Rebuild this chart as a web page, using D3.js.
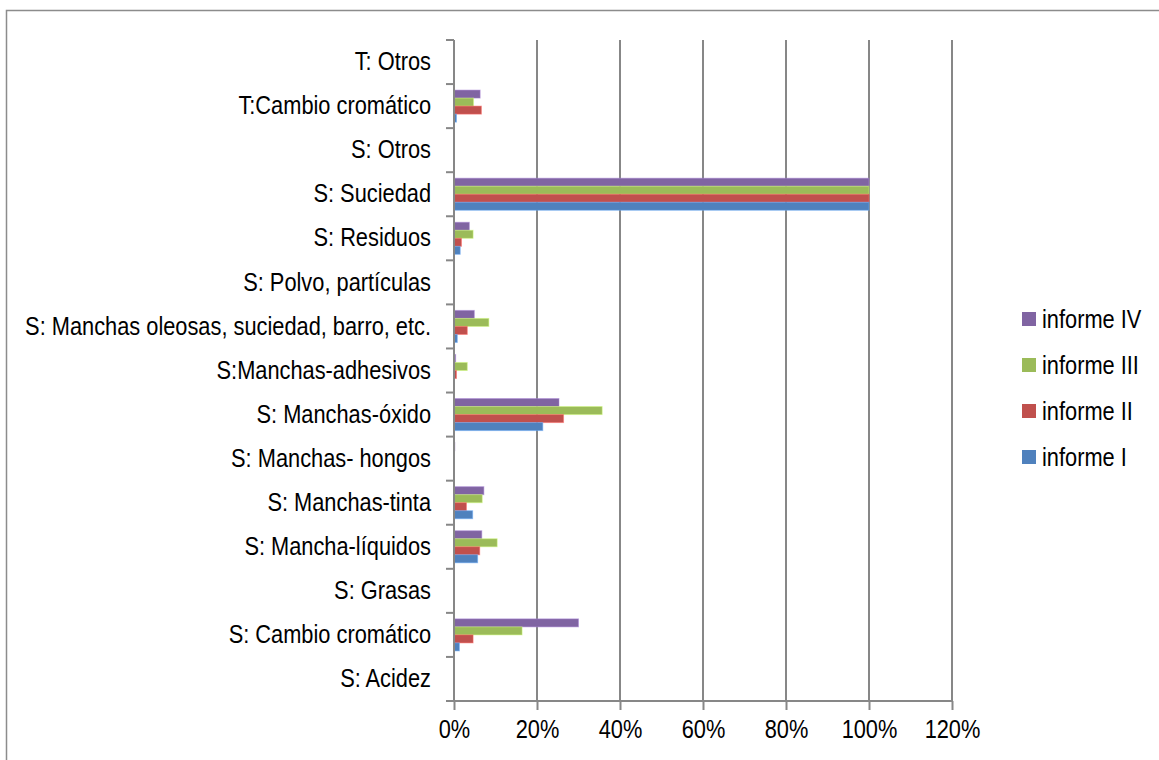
<!DOCTYPE html>
<html>
<head>
<meta charset="utf-8">
<script src="https://cdn.jsdelivr.net/npm/d3@7"></script>
<style>
  body { margin: 0; background: #fff; }
  text { font-family: "Liberation Sans", Arial, sans-serif; fill: #000; }
</style>
</head>
<body>
<div id="chart"></div>
<script>
// categories, top to bottom as drawn
var categories = [
    "T: Otros",
    "T:Cambio cromático",
    "S: Otros",
    "S: Suciedad",
    "S: Residuos",
    "S: Polvo, partículas",
    "S: Manchas oleosas, suciedad, barro, etc.",
    "S:Manchas-adhesivos",
    "S: Manchas-óxido",
    "S: Manchas- hongos",
    "S: Manchas-tinta",
    "S: Mancha-líquidos",
    "S: Grasas",
    "S: Cambio cromático",
    "S: Acidez"
];

// series (legend order, top to bottom)
var series = ["informe IV", "informe III", "informe II", "informe I"];
var colors = ["#8064A2", "#9BBB59", "#C0504D", "#4F81BD"];

// values in %, same order as categories
var informeIV  = [0, 6.3, 0, 100, 3.7, 0, 4.9, 0.4, 25.3, 0.2, 7.2, 6.7, 0, 30.0, 0];
var informeIII = [0, 4.7, 0, 100, 4.6, 0, 8.4, 3.2, 35.7, 0, 6.8, 10.4, 0, 16.4, 0];
var informeII  = [0, 6.6, 0, 100, 1.8, 0, 3.2, 0.6, 26.4, 0, 3.0, 6.2, 0, 4.6, 0];
var informeI   = [0, 0.6, 0, 100, 1.5, 0, 0.8, 0, 21.4, 0, 4.5, 5.7, 0, 1.3, 0];

var xTicks = [0, 20, 40, 60, 80, 100, 120];

var values = [informeIV, informeIII, informeII, informeI];

var width = 1159, height = 760;
var margin = {left: 454, top: 40, right: 207, bottom: 59};
var plotW = width - margin.left - margin.right;
var plotH = height - margin.top - margin.bottom;

// the original uses a narrow face; squeeze Liberation Sans to match
var sx = 0.855, fs = 25.5;

var svg = d3.select("#chart").append("svg")
    .attr("width", width)
    .attr("height", height);

// outer chart border (only left and top visible)
svg.append("path")
    .attr("d", "M6.5," + height + "V10.5H" + width)
    .attr("fill", "none")
    .attr("stroke", "#8c8c8c")
    .attr("stroke-width", 1.5);

var g = svg.append("g").attr("transform", "translate(" + margin.left + "," + margin.top + ")");

var x = d3.scaleLinear().domain([0, 120]).range([0, plotW]);
var y0 = d3.scaleBand().domain(categories).range([0, plotH]);
var y1 = d3.scaleBand().domain(series).range([6, y0.bandwidth() - 6]);

// vertical gridlines
g.selectAll("line.grid")
    .data(xTicks.slice(1))
    .enter().append("line")
    .attr("class", "grid")
    .attr("x1", d => x(d)).attr("x2", d => x(d))
    .attr("y1", 0).attr("y2", plotH)
    .attr("stroke", "#878787")
    .attr("stroke-width", 2);

// bars
var rows = [];
categories.forEach(function(c, i) {
    series.forEach(function(s, j) {
        rows.push({cat: c, ser: s, v: values[j][i], color: colors[j]});
    });
});

g.selectAll("rect.bar")
    .data(rows.filter(d => d.v > 0))
    .enter().append("rect")
    .attr("class", "bar")
    .attr("x", x(0))
    .attr("y", d => y0(d.cat) + y1(d.ser))
    .attr("width", d => x(d.v) - x(0))
    .attr("height", y1.bandwidth())
    .attr("fill", d => d.color)
    .attr("stroke", d => d3.color(d.color).brighter(0.8))
    .attr("stroke-opacity", 0.5)
    .attr("stroke-width", 1);

// y axis
var yAxis = d3.axisLeft(y0).tickSize(0).tickPadding(22);
var ya = g.append("g").call(yAxis);
ya.select(".domain").remove();
ya.selectAll("text")
    .attr("font-size", fs).attr("font-family", null)
    .attr("x", -23 / sx)
    .attr("transform", "scale(" + sx + ",1)");

// y tick marks at category boundaries
g.selectAll("line.ytick")
    .data(d3.range(categories.length + 1))
    .enter().append("line")
    .attr("class", "ytick")
    .attr("x1", -8).attr("x2", 0)
    .attr("y1", d => d * y0.step()).attr("y2", d => d * y0.step())
    .attr("stroke", "#878787")
    .attr("stroke-width", 2);

g.append("line")
    .attr("x1", 0).attr("x2", 0)
    .attr("y1", 0).attr("y2", plotH)
    .attr("stroke", "#878787")
    .attr("stroke-width", 2);

// x axis
var xAxis = d3.axisBottom(x).tickValues(xTicks).tickSize(9).tickPadding(10)
    .tickFormat(d => d + "%");
var xa = g.append("g").attr("transform", "translate(0," + plotH + ")").call(xAxis);
xa.select(".domain").attr("stroke", "#878787").attr("stroke-width", 2)
    .attr("d", "M-8,0H" + plotW);
xa.selectAll(".tick line").attr("stroke", "#878787").attr("stroke-width", 2);
xa.selectAll("text")
    .attr("font-size", fs).attr("font-family", null)
    .attr("transform", "scale(" + sx + ",1)");

// legend
var legend = svg.append("g").attr("transform", "translate(1022,319)");
var items = legend.selectAll("g")
    .data(series)
    .enter().append("g")
    .attr("transform", (d, i) => "translate(0," + i * 46 + ")");
items.append("rect")
    .attr("x", 0).attr("y", -7)
    .attr("width", 14).attr("height", 14)
    .attr("fill", (d, i) => colors[i]);
items.append("text")
    .attr("x", 20 / sx).attr("dy", "0.35em")
    .attr("font-size", fs)
    .attr("transform", "scale(" + sx + ",1)")
    .text(d => d);
</script>
</body>
</html>
